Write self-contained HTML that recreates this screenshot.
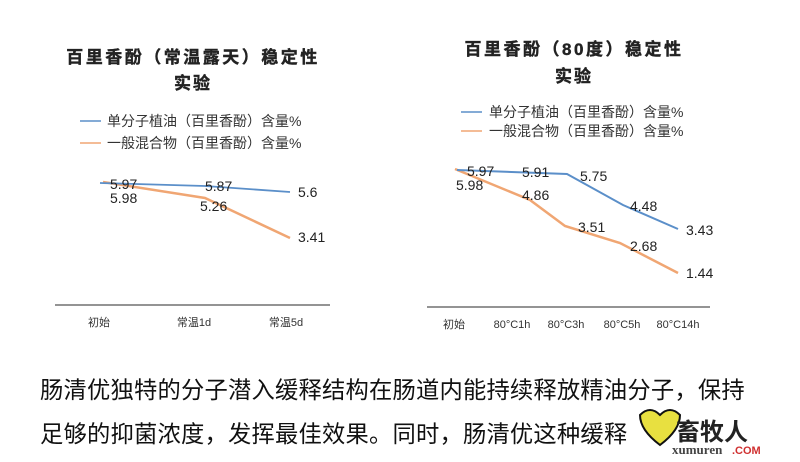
<!DOCTYPE html>
<html><head><meta charset="utf-8"><style>
body{margin:0;background:#fff;width:800px;height:462px;overflow:hidden;font-family:"Liberation Sans","Noto Sans CJK SC",sans-serif}
.t{position:absolute;left:40px;font-size:23.3px;color:#111;white-space:nowrap;letter-spacing:0.2px}
</style></head><body>
<div class="t" style="top:371px">肠清优独特的分子潜入缓释结构在肠道内能持续释放精油分子，保持</div>
<div class="t" style="top:415px">足够的抑菌浓度，发挥最佳效果。同时，肠清优这种缓释</div>
<svg width="800" height="462" style="position:absolute;left:0;top:0" font-family="Liberation Sans, Noto Sans CJK SC, sans-serif">
<g font-weight="bold" font-size="17" fill="#222" text-anchor="middle" stroke="#222" stroke-width="0.4">
<text x="193" y="63" letter-spacing="2.5">百里香酚（常温露天）稳定性</text>
<text x="193" y="89" letter-spacing="2">实验</text>
<text x="574" y="55" letter-spacing="2.5">百里香酚（80度）稳定性</text>
<text x="574" y="82" letter-spacing="2">实验</text>
</g>
<g font-size="14" fill="#333">
<line x1="80" y1="121" x2="101" y2="121" stroke="#5b8fc9" stroke-width="1.5"/>
<text x="107" y="126">单分子植油（百里香酚）含量%</text>
<line x1="80" y1="143" x2="101" y2="143" stroke="#f0a673" stroke-width="1.5"/>
<text x="107" y="148">一般混合物（百里香酚）含量%</text>
<line x1="461" y1="112" x2="482" y2="112" stroke="#5b8fc9" stroke-width="1.5"/>
<text x="489" y="117">单分子植油（百里香酚）含量%</text>
<line x1="461" y1="131" x2="482" y2="131" stroke="#f0a673" stroke-width="1.5"/>
<text x="489" y="136">一般混合物（百里香酚）含量%</text>
</g>
<polyline points="103,182 205,198 290,238" fill="none" stroke="#f0a673" stroke-width="2.5"/>
<polyline points="100,183 205,186 290,192" fill="none" stroke="#5b8fc9" stroke-width="1.8"/>
<polyline points="455,169 530,200 565,226 620,243 678,273" fill="none" stroke="#f0a673" stroke-width="2.5"/>
<polyline points="457,170 567,174 623,205 678,229" fill="none" stroke="#5b8fc9" stroke-width="2"/>
<g font-size="14" fill="#222">
<text x="110" y="189">5.97</text><text x="110" y="203">5.98</text>
<text x="205" y="191">5.87</text><text x="200" y="211">5.26</text>
<text x="298" y="197">5.6</text><text x="298" y="242">3.41</text>
<text x="467" y="176">5.97</text><text x="456" y="190">5.98</text>
<text x="522" y="177">5.91</text><text x="522" y="200">4.86</text>
<text x="580" y="181">5.75</text><text x="578" y="232">3.51</text>
<text x="630" y="211">4.48</text><text x="630" y="251">2.68</text>
<text x="686" y="235">3.43</text><text x="686" y="278">1.44</text>
</g>
<line x1="55" y1="305" x2="330" y2="305" stroke="#555" stroke-width="1.2"/>
<line x1="427" y1="307" x2="710" y2="307" stroke="#555" stroke-width="1.2"/>
<g font-size="11" fill="#333" text-anchor="middle">
<text x="99" y="326">初始</text><text x="194" y="326">常温1d</text><text x="286" y="326">常温5d</text>
<text x="454" y="328">初始</text><text x="512" y="328">80°C1h</text><text x="566" y="328">80°C3h</text>
<text x="622" y="328">80°C5h</text><text x="678" y="328">80°C14h</text>
</g>
<path d="M640 415 q10 -10 20 0 q10 -10 20 0 q0 15 -20 30 q-20 -15 -20 -30z" fill="#e8e040" stroke="#111" stroke-width="2"/>
<text x="676" y="440" font-size="24" font-weight="bold" fill="#222">畜牧人</text>
<text x="672" y="454" font-size="13" font-weight="bold" fill="#444" font-family="Liberation Serif, serif">xumuren</text>
<text x="732" y="454" font-size="11" font-weight="bold" fill="#d03030">.COM</text>
</svg>
</body></html>
